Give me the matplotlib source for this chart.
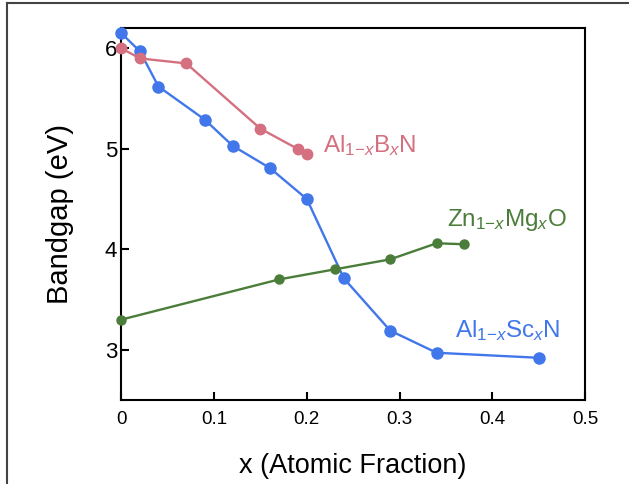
import matplotlib
matplotlib.use("Agg")
import matplotlib.pyplot as plt
from matplotlib.lines import Line2D

plt.rcParams['font.family'] = ['Liberation Sans', 'DejaVu Sans']
plt.rcParams['mathtext.fontset'] = 'custom'
plt.rcParams['mathtext.rm'] = 'Liberation Sans'
plt.rcParams['mathtext.it'] = 'Liberation Sans:italic'

# --- данные ---
x_scn = [0.0, 0.02, 0.04, 0.09, 0.12, 0.16, 0.20, 0.24, 0.29, 0.34, 0.45]
eg_scn = [6.15, 5.97, 5.62, 5.29, 5.03, 4.81, 4.50, 3.71, 3.19, 2.97, 2.92]

x_bn = [0.0, 0.02, 0.07, 0.15, 0.19, 0.20]
eg_bn = [6.00, 5.90, 5.85, 5.20, 5.00, 4.95]

x_mgo = [0.0, 0.17, 0.23, 0.29, 0.34, 0.37]
eg_mgo = [3.30, 3.70, 3.80, 3.90, 4.06, 4.05]

c_blue = '#4177ea'
c_pink = '#d4707f'
c_green = '#4b7d3a'

fig = plt.figure(figsize=(6.29, 4.84), dpi=100)
ax = fig.add_axes([0.193, 0.1736, 0.737, 0.768])

ax.plot(x_scn, eg_scn, '-o', color=c_blue, lw=1.7, ms=8, clip_on=False, zorder=3)
ax.plot(x_mgo, eg_mgo, '-o', color=c_green, lw=1.7, ms=6.5, clip_on=False, zorder=4)
ax.plot(x_bn, eg_bn, '-o', color=c_pink, lw=1.7, ms=7.5, clip_on=False, zorder=5)

ax.text(0.217, 4.97, r'Al$_{1\mathrm{-}x}$B$_x$N', color=c_pink, fontsize=17.5, va='baseline')
ax.text(0.351, 4.23, r'Zn$_{1\mathrm{-}x}$Mg$_x$O', color=c_green, fontsize=17.5, va='baseline')
ax.text(0.36, 3.13, r'Al$_{1\mathrm{-}x}$Sc$_x$N', color=c_blue, fontsize=17.5, va='baseline')

ax.set_xlim(0, 0.5)
ax.set_ylim(2.5, 6.2)
ax.set_xticks([0, 0.1, 0.2, 0.3, 0.4, 0.5])
ax.set_xticklabels(['0', '0.1', '0.2', '0.3', '0.4', '0.5'])
ax.set_yticks([3, 4, 5, 6])
ax.tick_params(direction='in', length=6, width=1.5, top=False, right=False)
ax.tick_params(axis='x', labelsize=13.5, pad=8)
ax.tick_params(axis='y', labelsize=16, pad=3)
for s in ax.spines.values():
    s.set_linewidth(1.5)

ax.set_xlabel('x (Atomic Fraction)', fontsize=19.5, labelpad=18)
ax.set_ylabel('Bandgap (eV)', fontsize=21, labelpad=22)

# рамка вокруг рисунка (видны только верх и левая сторона)
fig.add_artist(Line2D([0.011, 0.011], [0.0, 0.994], color='#444444', lw=1.5))
fig.add_artist(Line2D([0.011, 1.0], [0.994, 0.994], color='#444444', lw=1.5))

fig.savefig('out.png', dpi=100)
